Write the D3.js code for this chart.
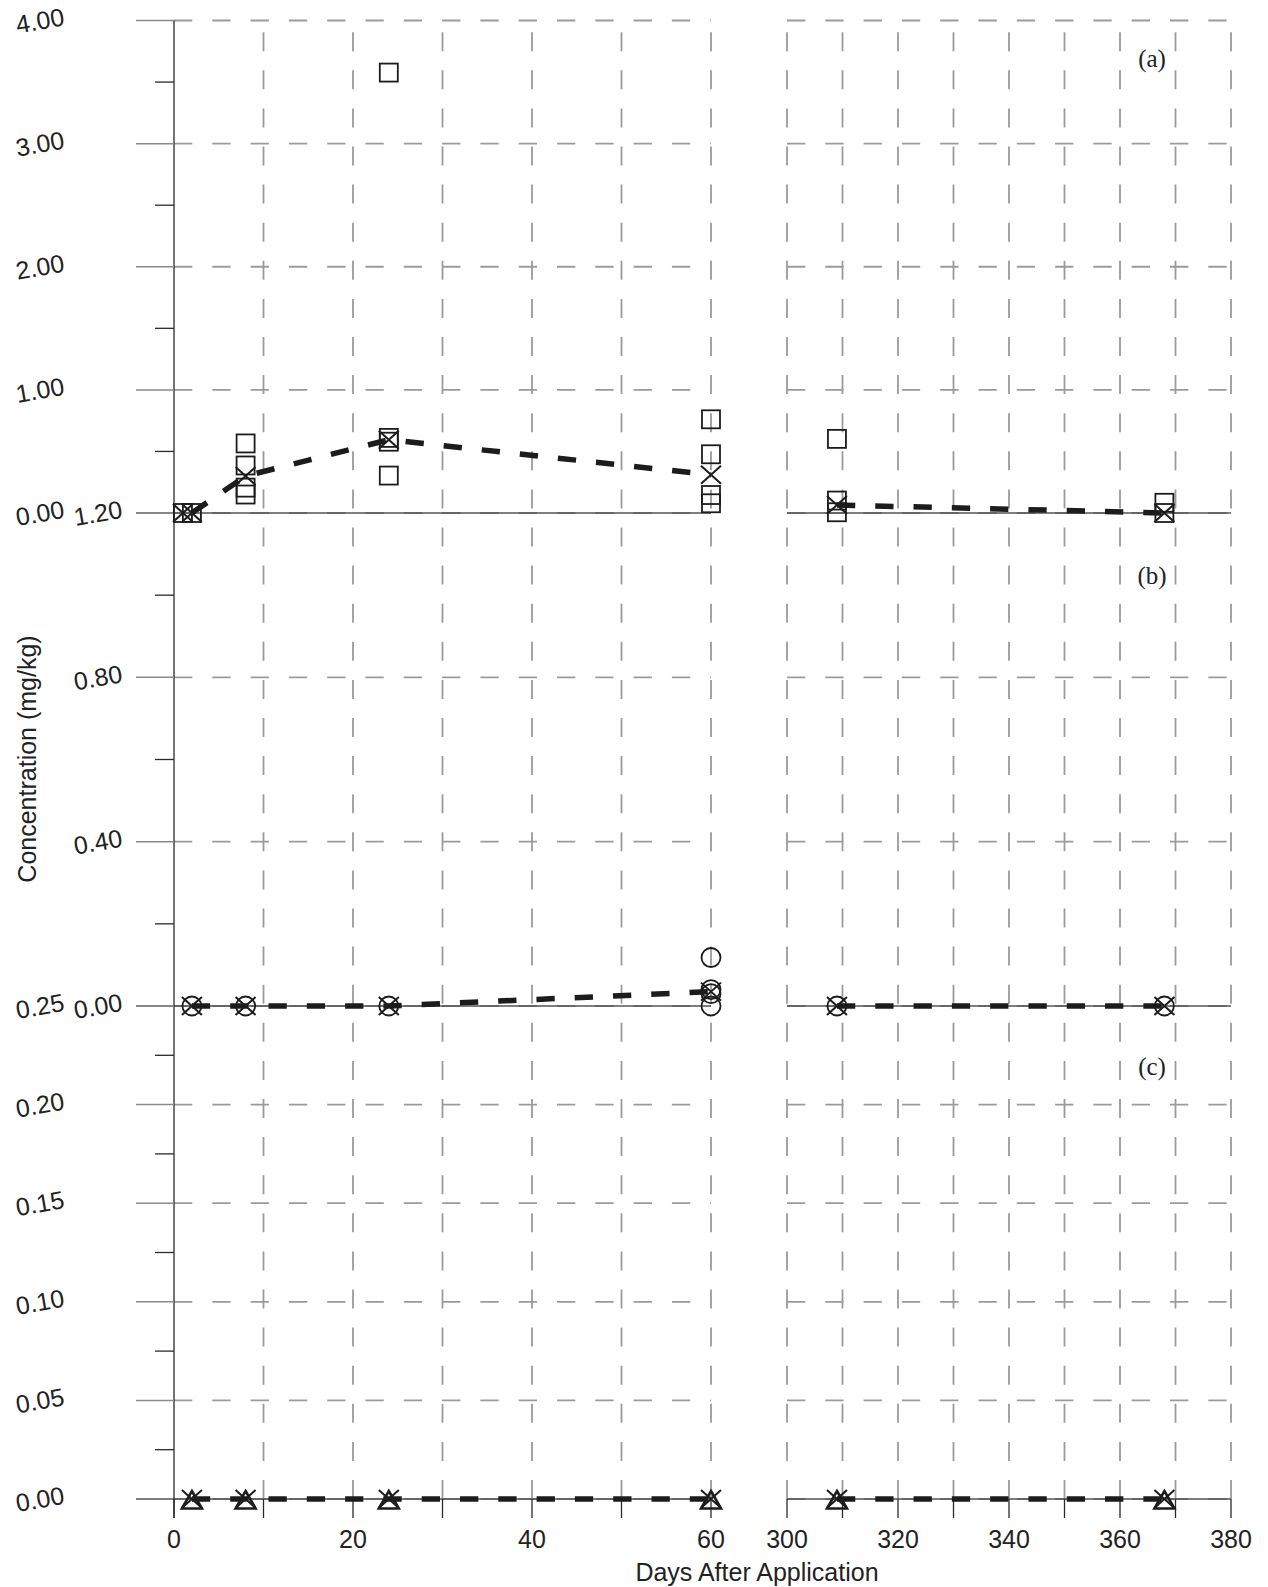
<!DOCTYPE html>
<html><head><meta charset="utf-8">
<script src="https://cdn.jsdelivr.net/npm/d3@7"></script>
<style>
body{margin:0;background:#fff}
svg{display:block}
text{font-family:"Liberation Sans",Arial,sans-serif;fill:#222}
</style>
</head><body>
<svg id="chart" width="1268" height="1587"></svg>
<script>
// ---------- data ----------
const xTicksLeft = [0, 20, 40, 60];
const xTicksRight = [300, 320, 340, 360, 380];
const yTicksA = [0, 1, 2, 3, 4];
const yTicksB = [0, 0.4, 0.8, 1.2];
const yTicksC = [0, 0.05, 0.10, 0.15, 0.20, 0.25];
const panelNames = ["(a)", "(b)", "(c)"];

// panel (a): individual replicates (squares) and medians (X)
const sqDays = [1, 2, 8, 8, 8, 8, 24, 24, 24, 24, 60, 60, 60, 60, 309, 309, 309, 368, 368];
const sqConc = [0, 0, 0.565, 0.386, 0.206, 0.150, 3.577, 0.610, 0.579, 0.304, 0.761, 0.477, 0.146, 0.079, 0.602, 0.101, 0.006, 0.083, 0.0];
const medADays = [1, 2, 8, 24, 60, 309, 368];
const medA = [0, 0, 0.30, 0.595, 0.31, 0.065, 0.0];

// panel (b): replicates (circles) and medians (X)
const ciDays = [2, 8, 24, 60, 60, 60, 60, 309, 368];
const ciConc = [0, 0, 0, 0.118, 0.040, 0.030, 0.0, 0, 0];
const medBDays = [2, 8, 24, 60, 309, 368];
const medB = [0, 0, 0, 0.035, 0, 0];

// panel (c): replicates (triangles) and medians (X)
const trDays = [2, 8, 24, 60, 309, 368];
const trConc = [0, 0, 0, 0, 0, 0];
const medCDays = [2, 8, 24, 60, 309, 368];
const medC = [0, 0, 0, 0, 0, 0];

// ---------- layout ----------
const svg = d3.select("#chart");
const W = 1268, H = 1587;
svg.append("rect").attr("width", W).attr("height", H).attr("fill", "#fff");

const xL = d3.scaleLinear().domain([0, 60]).range([174, 711]);
const xR = d3.scaleLinear().domain([300, 380]).range([787, 1231]);
const xOf = d => d <= 100 ? xL(d) : xR(d);

const yA = d3.scaleLinear().domain([0, 4]).range([513, 20.5]);
const yB = d3.scaleLinear().domain([0, 1.2]).range([1006, 513]);
const yC = d3.scaleLinear().domain([0, 0.25]).range([1499, 1006]);

const gridCol = "#9b9b9b", dark = "#2a2a2a";
const g = svg.append("g");

// horizontal dashed grid lines
function hGrid(scale, ticks) {
  ticks.forEach(t => {
    [[xL.range()[0], xL.range()[1]], [xR.range()[0], xR.range()[1]]].forEach(r => {
      g.append("line").attr("x1", r[0]).attr("x2", r[1])
        .attr("y1", scale(t)).attr("y2", scale(t))
        .attr("stroke", gridCol).attr("stroke-width", 1.8)
        .attr("stroke-dasharray", "18.3,20");
    });
  });
}
hGrid(yA, yTicksA); hGrid(yB, yTicksB); hGrid(yC, yTicksC);

// vertical dashed grid lines (drawn upward from bottom)
const vLeft = d3.range(10, 61, 10), vRight = d3.range(300, 381, 10);
[...vLeft.map(xL), ...vRight.map(xR)].forEach(x => {
  g.append("line").attr("x1", x).attr("x2", x)
    .attr("y1", yC(0)).attr("y2", yA(4))
    .attr("stroke", gridCol).attr("stroke-width", 1.8)
    .attr("stroke-dasharray", "19,19.1");
});

// panel baselines (solid)
[yA(0), yB(0), yC(0)].forEach(y => {
  g.append("line").attr("x1", 136).attr("x2", xL(60)).attr("y1", y).attr("y2", y)
    .attr("stroke", "#555").attr("stroke-width", 1.3);
  g.append("line").attr("x1", xR(300)).attr("x2", xR(380)).attr("y1", y).attr("y2", y)
    .attr("stroke", "#555").attr("stroke-width", 1.3);
});

// y axis line
g.append("line").attr("x1", 174).attr("x2", 174).attr("y1", yA(4)).attr("y2", yC(0) + 19)
  .attr("stroke", dark).attr("stroke-width", 1.3);

// y ticks
function yTickMarks(scale, major, minor) {
  major.forEach(t => g.append("line").attr("x1", 136).attr("x2", 174)
    .attr("y1", scale(t)).attr("y2", scale(t)).attr("stroke", t === 0 ? "#555" : "#8a8a8a").attr("stroke-width", 1.5));
  minor.forEach(t => g.append("line").attr("x1", 155).attr("x2", 174)
    .attr("y1", scale(t)).attr("y2", scale(t)).attr("stroke", dark).attr("stroke-width", 1.3));
}
yTickMarks(yA, yTicksA.slice(1), [0.5, 1.5, 2.5, 3.5]);
yTickMarks(yB, yTicksB.slice(1), [0.2, 0.6, 1.0]);
yTickMarks(yC, yTicksC.slice(1), [0.025, 0.075, 0.125, 0.175, 0.225]);

// y tick labels (slightly rotated)
function yLabels(scale, ticks, cx) {
  ticks.forEach(t => {
    const y = scale(t);
    g.append("text").attr("x", cx).attr("y", y)
      .attr("text-anchor", "middle").attr("dominant-baseline", "central")
      .attr("font-size", 25)
      .attr("transform", `rotate(-10,${cx},${y})`)
      .text(d3.format(".2f")(t));
  });
}
yLabels(yA, yTicksA, 40);
yLabels(yB, yTicksB, 98);
yLabels(yC, yTicksC, 40);

// x ticks
[...d3.range(0, 61, 10).map(xL), ...vRight.map(xR)].forEach(x => {
  g.append("line").attr("x1", x).attr("x2", x).attr("y1", yC(0)).attr("y2", yC(0) + 19)
    .attr("stroke", dark).attr("stroke-width", 1.3);
});
xTicksLeft.forEach(t => g.append("text").attr("x", xL(t)).attr("y", 1548)
  .attr("text-anchor", "middle").attr("font-size", 25).text(t));
xTicksRight.forEach(t => g.append("text").attr("x", xR(t)).attr("y", 1548)
  .attr("text-anchor", "middle").attr("font-size", 25).text(t));

// axis titles
g.append("text").attr("x", 757).attr("y", 1581).attr("text-anchor", "middle")
  .attr("font-size", 25).text("Days After Application");
g.append("text").attr("transform", "translate(36,759) rotate(-90)")
  .attr("text-anchor", "middle").attr("font-size", 25).text("Concentration (mg/kg)");

// panel labels
[[panelNames[0], 58], [panelNames[1], 575], [panelNames[2], 1066]].forEach(([t, y]) => {
  g.append("text").attr("x", 1152).attr("y", y).attr("dominant-baseline", "central")
    .attr("text-anchor", "middle").attr("font-size", 25)
    .style("font-family", '"Liberation Serif","Times New Roman",serif').text(t);
});

// ---------- series ----------
const mk = svg.append("g");
function medianLine(days, vals, scale) {
  const line = d3.line().x(d => xOf(d[0])).y(d => scale(d[1]));
  const pts = days.map((d, i) => [d, vals[i]]);
  [pts.filter(p => p[0] <= 100), pts.filter(p => p[0] >= 300)].forEach(seg => {
    mk.append("path").attr("d", line(seg)).attr("fill", "none")
      .attr("stroke", "#1c1c1c").attr("stroke-width", 5.5)
      .attr("stroke-dasharray", "18.3,20");
  });
}
function crosses(days, vals, scale) {
  days.forEach((d, i) => mk.append("path")
    .attr("transform", `translate(${xOf(d)},${scale(vals[i])})`)
    .attr("d", "M-10,-9L10,9M-10,9L10,-9")
    .attr("stroke", "#1c1c1c").attr("stroke-width", 2).attr("fill", "none"));
}

medianLine(medADays.slice(1), medA.slice(1), yA);
sqDays.forEach((d, i) => mk.append("rect")
  .attr("x", xOf(d) - 9).attr("y", yA(sqConc[i]) - 9).attr("width", 18).attr("height", 18)
  .attr("fill", "none").attr("stroke", "#1c1c1c").attr("stroke-width", 1.8));
crosses(medADays, medA, yA);

medianLine(medBDays, medB, yB);
ciDays.forEach((d, i) => mk.append("circle")
  .attr("cx", xOf(d)).attr("cy", yB(ciConc[i])).attr("r", 9.5)
  .attr("fill", "none").attr("stroke", "#1c1c1c").attr("stroke-width", 1.8));
crosses(medBDays, medB, yB);

medianLine(medCDays, medC, yC);
trDays.forEach((d, i) => mk.append("path")
  .attr("transform", `translate(${xOf(d)},${yC(trConc[i])})`)
  .attr("d", "M0,-8L10,9.5L-10,9.5Z")
  .attr("fill", "none").attr("stroke", "#1c1c1c").attr("stroke-width", 2.6));
crosses(medCDays, medC, yC);
</script>
</body></html>
